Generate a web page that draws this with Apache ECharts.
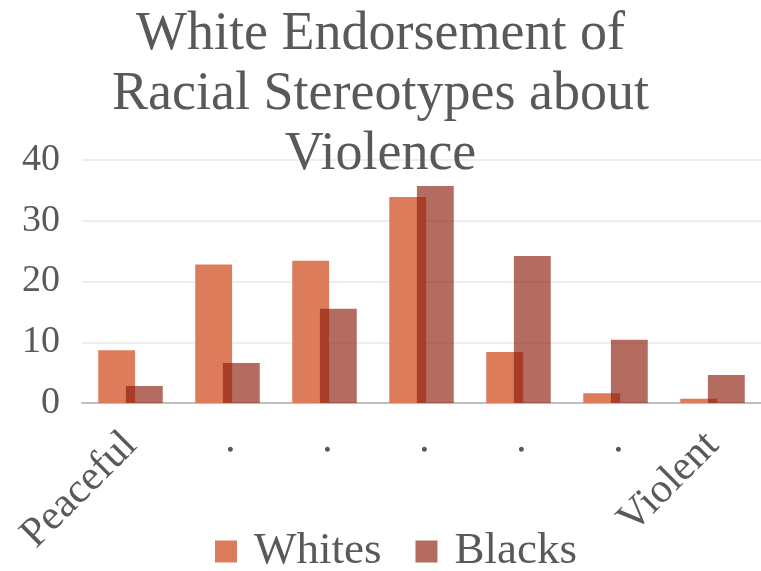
<!DOCTYPE html>
<html><head><meta charset="utf-8">
<script src="https://cdn.jsdelivr.net/npm/echarts@6/dist/echarts.min.js"></script>
<style>html,body{margin:0;padding:0;background:#fff}#c{width:761px;height:571px}</style>
</head><body><div id="c"></div>
<script>
const categories = ['Peaceful', '.', '.', '.', '.', '.', 'Violent'];
const whites = [8.7, 22.8, 23.4, 33.9, 8.4, 1.6, 0.7];
const blacks = [2.8, 6.6, 15.5, 35.7, 24.2, 10.4, 4.6];
const yTicks = {min: 0, max: 40, interval: 10};
const serif = '"Liberation Serif", "DejaVu Serif", serif';
const chart = echarts.init(document.getElementById('c'));
chart.setOption({
  animation: false,
  title: {
    text: 'White Endorsement of\nRacial Stereotypes about\nViolence',
    left: 'center', top: 0,
    textStyle: {fontFamily: serif, fontWeight: 'normal', fontSize: 54, lineHeight: 60, color: '#595959'}
  },
  legend: {
    bottom: -8, left: 210, itemWidth: 22, itemHeight: 22, itemGap: 34,
    icon: 'rect',
    textStyle: {fontFamily: serif, fontSize: 45, color: '#595959', padding: [0, 0, 0, 12]}
  },
  grid: {left: 82, right: 0, top: 160, bottom: 168},
  xAxis: {
    type: 'category', data: categories,
    axisLine: {lineStyle: {color: '#BFBFBF', width: 2}},
    axisTick: {show: false},
    axisLabel: {rotate: 45, fontFamily: serif, fontSize: 42, color: '#595959', margin: 36, interval: 0}
  },
  yAxis: {
    type: 'value', min: yTicks.min, max: yTicks.max, interval: yTicks.interval,
    splitLine: {lineStyle: {color: '#E8E8E8', width: 1.5}},
    axisLabel: {fontFamily: serif, fontSize: 38, color: '#595959', margin: 22}
  },
  series: [
    {name: 'Whites', type: 'bar', data: whites, barWidth: '38%', barGap: '-25%',
     itemStyle: {color: '#DC7C5A'}},
    {name: 'Blacks', type: 'bar', data: blacks, barWidth: '38%',
     itemStyle: {color: 'rgba(141,31,13,0.66)'}}
  ]
});
</script></body></html>
